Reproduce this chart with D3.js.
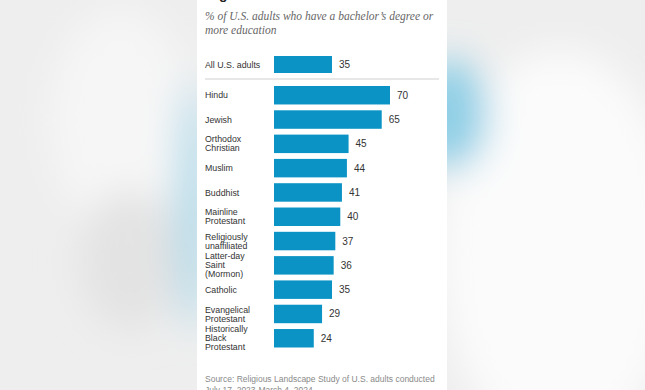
<!DOCTYPE html>
<html><head><meta charset="utf-8">
<script src="https://cdn.jsdelivr.net/npm/d3@7"></script>
<style>html,body{margin:0;padding:0;background:#f0f0f0;}svg{display:block;}</style>
</head><body>
<script>
const totalLabel = "All U.S. adults";
const totalValue = 35;
const categories = ["Hindu","Jewish","Orthodox\nChristian","Muslim","Buddhist","Mainline\nProtestant","Religiously\nunaffiliated","Latter-day\nSaint\n(Mormon)","Catholic","Evangelical\nProtestant","Historically\nBlack\nProtestant"];
const values = [70,65,45,44,41,40,37,36,35,29,24];
const titleText = "Higher education";
const subtitleLines = ["% of U.S. adults who have a bachelor’s degree or","more education"];
const sourceLines = ["Source: Religious Landscape Study of U.S. adults conducted","July 17, 2023-March 4, 2024."];

const W = 645, H = 390;
const svg = d3.select("body").append("svg").attr("width", W).attr("height", H);
const defs = svg.append("defs");
const blur = defs.append("filter").attr("id","blur").attr("x","-50%").attr("y","-50%").attr("width","200%").attr("height","200%");
blur.append("feGaussianBlur").attr("stdDeviation", 18);

// blurred backdrop
const bg = svg.append("g");
bg.append("rect").attr("width", W).attr("height", H).attr("fill", "#eeeeee");
const bgb = bg.append("g").attr("filter","url(#blur)");
bgb.append("ellipse").attr("cx", 560).attr("cy", 250).attr("rx", 120).attr("ry", 200).attr("fill", "#fbfbfb");
bgb.append("ellipse").attr("cx", 120).attr("cy", 120).attr("rx", 70).attr("ry", 110).attr("fill", "#f6f6f6");
bgb.append("ellipse").attr("cx", 130).attr("cy", 260).attr("rx", 50).attr("ry", 70).attr("fill", "#e3e3e3");
bgb.append("ellipse").attr("cx", 192).attr("cy", 205).attr("rx", 14).attr("ry", 125).attr("fill", "#a6d8ea");
bgb.append("ellipse").attr("cx", 450).attr("cy", 115).attr("rx", 38).attr("ry", 55).attr("fill", "#8fcfe6");

// white panel
svg.append("rect").attr("x", 197).attr("y", 0).attr("width", 250).attr("height", H).attr("fill", "#ffffff");

const g = svg.append("g");
const labelX = 205;
const x = d3.scaleLinear().domain([0, 70]).range([274, 390]);
const y = d3.scaleBand().domain(categories).range([86, 347.5]).paddingInner(0.24).paddingOuter(0);
const barColor = "#0a93c4";
const font = "'Liberation Sans', Arial, sans-serif";

// title (cropped at top, as in the reference)
g.append("text").attr("x", labelX).attr("y", -1).attr("font-family", font).attr("font-weight", "bold")
  .attr("font-size", 14).attr("fill", "#222").text(titleText);

// subtitle
g.append("text").attr("font-family", "'Liberation Serif', Georgia, serif").attr("font-style", "italic")
  .attr("font-size", 11.5).attr("fill", "#666")
  .selectAll("tspan").data(subtitleLines).join("tspan")
  .attr("x", labelX).attr("y", (d, i) => 20 + i * 14).text(d => d);

// total row
const totalY = 56, totalH = 17;
g.append("rect").attr("x", x(0)).attr("y", totalY).attr("width", x(totalValue) - x(0)).attr("height", totalH).attr("fill", barColor);
g.append("text").attr("x", labelX).attr("y", totalY + totalH / 2).attr("dy", "0.35em")
  .attr("font-family", font).attr("font-size", 8.8).attr("fill", "#333").text(totalLabel);
g.append("text").attr("x", x(totalValue) + 7).attr("y", totalY + totalH / 2).attr("dy", "0.35em")
  .attr("font-family", font).attr("font-size", 10).attr("fill", "#333").text(totalValue);

// separator
g.append("line").attr("x1", 205).attr("x2", 439).attr("y1", 79).attr("y2", 79).attr("stroke", "#cfcfcf").attr("stroke-width", 1);

// bars
g.selectAll("rect.bar").data(categories).join("rect").attr("class", "bar")
  .attr("x", x(0)).attr("y", d => y(d)).attr("width", (d, i) => x(values[i]) - x(0))
  .attr("height", y.bandwidth()).attr("fill", barColor);

g.selectAll("text.val").data(categories).join("text").attr("class", "val")
  .attr("x", (d, i) => x(values[i]) + 7).attr("y", d => y(d) + y.bandwidth() / 2).attr("dy", "0.35em")
  .attr("font-family", font).attr("font-size", 10).attr("fill", "#333").text((d, i) => values[i]);

const lh = 9;
g.selectAll("text.cat").data(categories).join("text").attr("class", "cat")
  .attr("font-family", font).attr("font-size", 8.8).attr("fill", "#333")
  .each(function(d) {
    const lines = d.split("\n");
    const cy = y(d) + y.bandwidth() / 2;
    d3.select(this).selectAll("tspan").data(lines).join("tspan")
      .attr("x", labelX).attr("y", (l, i) => cy + (i - (lines.length - 1) / 2) * lh).attr("dy", "0.35em").text(l => l);
  });

// source
g.append("text").attr("font-family", font).attr("font-size", 8.5).attr("fill", "#8a8a8a")
  .selectAll("tspan").data(sourceLines).join("tspan")
  .attr("x", labelX).attr("y", (d, i) => 382 + i * 11).text(d => d);
</script>
</body></html>
